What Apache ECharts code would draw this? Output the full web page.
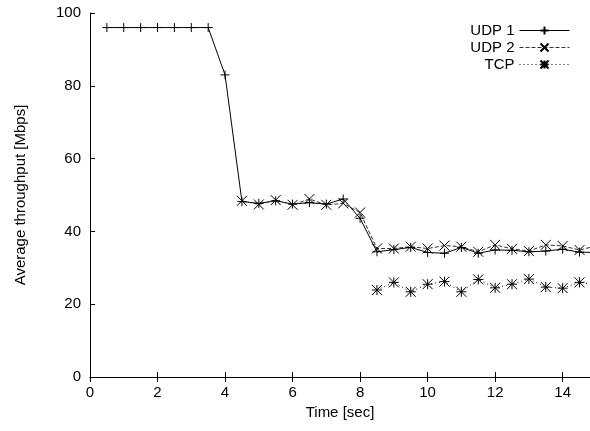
<!DOCTYPE html>
<html>
<head>
<meta charset="utf-8">
<script src="https://cdn.jsdelivr.net/npm/echarts@6/dist/echarts.min.js"></script>
<style>
  html, body { margin: 0; padding: 0; background: #fff; }
  #chart { width: 590px; height: 431px; }
</style>
</head>
<body>
<div id="chart"></div>
<script>
// time axis ticks
const xTicks = [0, 2, 4, 6, 8, 10, 12, 14]
const yTicks = [0, 20, 40, 60, 80, 100]

// UDP 1 (solid, +)
const udp1Time = [0.5, 1, 1.5, 2, 2.5, 3, 3.5, 4, 4.5, 5, 5.5, 6, 6.5, 7, 7.5, 8, 8.5, 9, 9.5, 10, 10.5, 11, 11.5, 12, 12.5, 13, 13.5, 14, 14.5, 15]
const udp1Values = [96, 96, 96, 96, 96, 96, 96, 83, 48.2, 47.7, 48.4, 47.5, 47.9, 47.5, 48.9, 43.6, 34.4, 35.0, 35.6, 34.2, 34.0, 35.6, 34.0, 34.9, 34.8, 34.4, 34.6, 35.1, 34.3, 34.2]

// UDP 2 (dashed, x)
const udp2Time = [4.5, 5, 5.5, 6, 6.5, 7, 7.5, 8, 8.5, 9, 9.5, 10, 10.5, 11, 11.5, 12, 12.5, 13, 13.5, 14, 14.5, 15]
const udp2Values = [48.4, 47.4, 48.6, 47.3, 48.9, 47.3, 47.7, 45.2, 35.3, 35.3, 35.8, 35.3, 36.1, 35.8, 34.4, 36.3, 35.2, 34.6, 36.3, 36.0, 34.9, 36.0]

// TCP (dotted, *)
const tcpTime = [8.5, 9, 9.5, 10, 10.5, 11, 11.5, 12, 12.5, 13, 13.5, 14, 14.5, 15]
const tcpValues = [23.9, 26.0, 23.4, 25.5, 26.2, 23.4, 26.8, 24.5, 25.5, 26.9, 24.7, 24.4, 26.0, 25.3]

const font = 'Liberation Sans, Arial, Helvetica, sans-serif'
const fs = 15
const PLUS = 'path://M0,5L10,5M5,0L5,10'
const CROSS = 'path://M0,0L10,10M0,10L10,0'
const STAR = 'path://M0,5L10,5M5,0L5,10M0,0L10,10M0,10L10,0'

const zip = (xs, ys) => xs.map((x, i) => [x, ys[i]])

const mkSeries = (name, xs, ys, symbol, size, lineType, color) => ({
  name,
  type: 'line',
  data: zip(xs, ys),
  symbol,
  symbolSize: size,
  showAllSymbol: true,
  clip: true,
  lineStyle: { color, width: 1, type: lineType },
  itemStyle: { color: 'none', borderColor: '#000', borderWidth: 1 },
  emphasis: { disabled: true }
})

// one legend per entry so the labels stay right aligned like gnuplot's key
const mkLegend = (name, top) => ({
  data: [name],
  right: 15,
  top,
  orient: 'vertical',
  align: 'right',
  itemWidth: 50,
  itemHeight: 10,
  itemGap: 0,
  lineStyle: { width: 1 },
  textStyle: { fontFamily: font, fontSize: fs, color: '#000', padding: [0, 0, 0, 0] }
})

const chart = echarts.init(document.getElementById('chart'))
chart.setOption({
  animation: false,
  backgroundColor: '#fff',
  grid: { left: 90, right: 0, top: 13, bottom: 54 },
  legend: [
    mkLegend('UDP 1', 18),
    mkLegend('UDP 2', 35),
    mkLegend('TCP', 52)
  ],
  xAxis: [{
    type: 'value',
    min: xTicks[0],
    max: 14.81,
    interval: 2,
    name: 'Time [sec]',
    nameLocation: 'middle',
    nameGap: 26,
    nameTextStyle: { fontFamily: font, fontSize: fs, color: '#000' },
    axisLine: { onZero: false, lineStyle: { color: '#000', width: 1 } },
    axisTick: { inside: true, length: 5, lineStyle: { color: '#000' } },
    axisLabel: {
      fontFamily: font, fontSize: fs, color: '#000', margin: 8,
      showMaxLabel: false,
      formatter: v => xTicks.includes(v) ? String(v) : ''
    },
    splitLine: { show: false }
  }, {
    type: 'value',
    position: 'top',
    min: xTicks[0],
    max: 14.81,
    interval: 2,
    axisLine: { lineStyle: { color: '#000', width: 1 } },
    axisTick: { inside: true, length: 5, lineStyle: { color: '#000' } },
    axisLabel: { show: false },
    splitLine: { show: false }
  }],
  yAxis: {
    type: 'value',
    min: yTicks[0],
    max: yTicks[yTicks.length - 1],
    interval: 20,
    name: 'Average throughput [Mbps]',
    nameLocation: 'middle',
    nameGap: 62,
    nameTextStyle: { fontFamily: font, fontSize: fs, color: '#000' },
    axisLine: { show: true, lineStyle: { color: '#000', width: 1 } },
    axisTick: { show: true, inside: true, length: 5, lineStyle: { color: '#000' } },
    axisLabel: { fontFamily: font, fontSize: fs, color: '#000', margin: 9 },
    splitLine: { show: false }
  },
  series: [
    mkSeries('UDP 1', udp1Time, udp1Values, PLUS, 9, 'solid', '#000'),
    mkSeries('UDP 2', udp2Time, udp2Values, CROSS, 10, [4, 2], '#333'),
    mkSeries('TCP', tcpTime, tcpValues, STAR, 10, [1, 3], '#000')
  ]
})
</script>
</body>
</html>
